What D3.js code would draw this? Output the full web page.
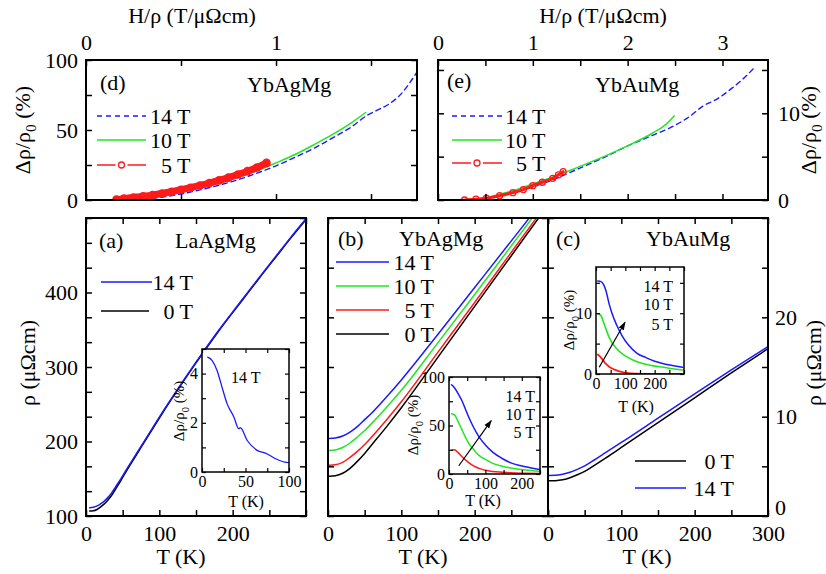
<!DOCTYPE html>
<html>
<head>
<meta charset="utf-8">
<script src="https://cdn.jsdelivr.net/npm/d3@7"></script>
<style>
body { margin: 0; background: #fff; }
text { font-family: "Liberation Serif", "Times New Roman", serif; fill: #000; }
</style>
</head>
<body>
<div id="fig"></div>
<script>
"use strict";
// ---- (a) LaAgMg, rho (uOhm cm) vs T (K)
var aT = [5, 10, 15, 20, 25, 30, 35, 40, 45, 50, 60, 75, 90, 105, 120, 135, 150, 165, 180, 200, 220, 240, 260, 280, 300];
var a14 = [111, 111.8, 113.5, 116.5, 120, 125, 131, 138.5, 146, 154, 170, 193.5, 217, 240.5, 263, 285, 306.5, 327.5, 348, 374, 399.5, 425, 450, 475, 499];
var a0 = [106.7, 107, 108.7, 112.2, 116.3, 121.6, 127.9, 135.6, 143.4, 151.9, 168.2, 192, 215.7, 239.3, 261.9, 284, 305.5, 326.5, 347, 373, 398.5, 424, 449, 474, 498];
// inset (a): MR at 14 T
var iaT = [6.6, 11.5, 17.3, 23, 28.8, 36.6, 42.3, 44, 52, 63.4, 73, 84.7, 95, 100];
var ia14 = [4.67, 4.54, 4.13, 3.45, 2.78, 2.24, 1.76, 1.8, 1.28, 0.88, 0.77, 0.54, 0.4, 0.38];

// ---- (b) YbAgMg
var bT = [2, 10, 20, 30, 40, 50, 60, 80, 100, 150, 200, 250, 300];
var b0 = [4.0, 4.05, 4.3, 4.8, 5.5, 6.3, 7.2, 9.0, 10.9, 16.0, 21.1, 26.2, 31.3];
var b5 = [5.1, 5.15, 5.4, 5.9, 6.5, 7.2, 8.0, 9.7, 11.5, 16.5, 21.5, 26.55, 31.6];
var b10 = [6.6, 6.65, 6.9, 7.35, 7.95, 8.6, 9.35, 10.95, 12.65, 17.45, 22.3, 27.2, 32.1];
var b14 = [7.8, 7.85, 8.05, 8.45, 9.0, 9.7, 10.4, 12.0, 13.7, 18.3, 23.0, 27.7, 32.4];
// inset (b)
var ibT = [7, 15, 25, 35, 45, 55, 65, 75, 85, 100, 120, 146, 170, 210, 249];
var ib14 = [92, 89, 83, 76, 67, 58, 50, 43, 37, 30, 22.5, 16, 11.5, 7.5, 4.6];
var ib10 = [62, 61, 54, 46, 38, 31, 26.5, 22, 18.5, 15, 11, 8, 6.2, 4.2, 2.9];
var ib5 = [24.5, 25, 22, 18, 14.5, 11.5, 9, 7, 5.5, 3.8, 2.6, 1.8, 1.2, 0.8, 0.5];

// ---- (c) YbAuMg
var cT = [2, 10, 20, 30, 40, 50, 60, 80, 100, 150, 200, 250, 300];
var c0 = [3.55, 3.56, 3.65, 3.85, 4.15, 4.5, 4.95, 5.9, 6.9, 9.4, 11.9, 14.4, 16.85];
var c14 = [4.08, 4.09, 4.2, 4.4, 4.7, 5.05, 5.5, 6.45, 7.4, 9.85, 12.3, 14.7, 17.05];
// inset (c)
var icT = [6, 17, 25, 34, 45, 55, 70, 90, 110, 140, 170, 200, 230, 260, 295];
var ic14 = [15.3, 15.2, 14.8, 13.7, 11.5, 9.9, 8.1, 6.2, 4.8, 3.4, 2.7, 2.1, 1.7, 1.4, 1.1];
var ic10 = [9.9, 9.6, 8.6, 7.4, 6.0, 5.1, 4.2, 3.3, 2.7, 2.0, 1.6, 1.3, 1.1, 0.85, 0.65];
var ic5 = [3.2, 2.7, 2.2, 1.65, 1.2, 0.9, 0.6, 0.3, 0.12, 0.05, 0.02, 0, 0, 0, 0];

// ---- (d) YbAgMg, MR vs H/rho
var d14x = [0.30, 0.4, 0.5, 0.6, 0.7, 0.8, 0.9, 1.0, 1.1, 1.2, 1.3, 1.4, 1.48, 1.53, 1.6, 1.66, 1.7, 1.745];
var d14 = [0.3, 2.0, 4.3, 7.2, 10.6, 14.5, 19.2, 24.4, 30.5, 37.0, 44.5, 52.5, 60.5, 64, 69, 76, 83, 92];
var d10x = [0.305, 0.4, 0.5, 0.6, 0.7, 0.8, 0.9, 1.0, 1.1, 1.2, 1.3, 1.4, 1.472];
var d10 = [0.5, 2.8, 5.6, 8.5, 12.0, 16.0, 20.8, 26.5, 32.5, 39.5, 47.0, 55.5, 62.5];
var d5x = [0.16, 0.2, 0.25, 0.3, 0.35, 0.4, 0.45, 0.5, 0.55, 0.6, 0.65, 0.7, 0.75, 0.8, 0.85, 0.9, 0.95];
var d5 = [0.3, 1.0, 1.8, 2.6, 3.5, 4.6, 5.9, 7.3, 8.8, 10.4, 12.1, 14.0, 16.0, 18.2, 20.6, 23.2, 26.5];

// ---- (e) YbAuMg, MR vs H/rho
var e14x = [0.58, 0.8, 1.0, 1.25, 1.49, 1.75, 1.98, 2.25, 2.47, 2.65, 2.79, 2.95, 3.1, 3.2, 3.33];
var e14 = [0.3, 0.9, 1.5, 2.5, 3.65, 4.9, 6.15, 7.4, 8.46, 9.6, 10.8, 11.7, 12.9, 13.8, 15.2];
var e10x = [0.58, 0.8, 1.0, 1.25, 1.49, 1.75, 1.98, 2.26, 2.4, 2.49];
var e10 = [0.46, 1.1, 1.85, 2.8, 3.85, 5.0, 6.15, 7.7, 8.7, 9.7];
var e5x = [0.28, 0.4, 0.51, 0.65, 0.79, 0.9, 1.0, 1.1, 1.21, 1.27, 1.32];
var e5 = [0, 0.1, 0.2, 0.5, 0.85, 1.2, 1.65, 2.05, 2.5, 2.9, 3.27];

var FONT = '"Liberation Serif", "Times New Roman", serif';
var BLUE = '#1a1aff', GREEN = '#22e622', RED = '#ff1a1a', BLACK = '#000';
var width = 826, height = 574;

var svg = d3.select('#fig').append('svg')
    .attr('width', width)
    .attr('height', height);

var defs = svg.append('defs');
defs.append('marker')
    .attr('id', 'arr')
    .attr('viewBox', '0 0 10 10')
    .attr('refX', 9).attr('refY', 5)
    .attr('markerWidth', 7).attr('markerHeight', 7)
    .attr('orient', 'auto')
    .append('path').attr('d', 'M0,1.5L10,5L0,8.5z').attr('fill', '#000');

var clipN = 0;
function panel(box, xd, yd) {
    var g = svg.append('g').attr('transform', 'translate(' + box.x + ',' + box.y + ')');
    if (box.bg) g.append('rect').attr('width', box.w).attr('height', box.h).attr('fill', '#fff');
    var id = 'clip' + (clipN++);
    defs.append('clipPath').attr('id', id)
        .append('rect').attr('width', box.w).attr('height', box.h);
    return {
        g: g,
        w: box.w, h: box.h,
        x: d3.scaleLinear().domain(xd).range([0, box.w]),
        y: d3.scaleLinear().domain(yd).range([box.h, 0]),
        plot: g.append('g').attr('clip-path', 'url(#' + id + ')')
    };
}

function near(v, list) {
    return list.some(function (l) { return Math.abs(l - v) < 1e-6; });
}

// inward ticks on all four sides, labels only on the chosen sides
function axes(p, o) {
    var sides = [
        ['bottom', d3.axisBottom(p.x), 'translate(0,' + p.h + ')', o.xt, o.xside, o.xl],
        ['top', d3.axisTop(p.x), 'translate(0,0)', o.xt, o.xside, o.xl],
        ['left', d3.axisLeft(p.y), 'translate(0,0)', o.yt, o.yside, o.yl],
        ['right', d3.axisRight(p.y), 'translate(' + p.w + ',0)', o.yt, o.yside, o.yl]
    ];
    sides.forEach(function (s) {
        var ax = p.g.append('g')
            .classed('ax-' + s[0], true)
            .attr('transform', s[2])
            .call(s[1].tickValues(s[3]).tickSize(-o.len).tickPadding(o.pad[s[0]] || 6)
                .tickFormat(function (v) { return s[0] === s[4] && near(v, s[5]) ? String(v) : ''; }))
            .attr('font-family', FONT)
            .attr('font-size', o.fs);
        ax.select('.domain').remove();
        ax.selectAll('line').attr('stroke-width', o.lw || 1.5);
    });
    p.g.append('rect')
        .attr('width', p.w).attr('height', p.h)
        .attr('fill', 'none').attr('stroke', '#000').attr('stroke-width', o.frame || 2);
}

function curve(p, xs, ys, color, sw, dash) {
    return p.plot.append('path')
        .datum(d3.zip(xs, ys))
        .attr('fill', 'none')
        .attr('stroke', color)
        .attr('stroke-width', sw)
        .attr('stroke-linecap', 'round')
        .attr('stroke-dasharray', dash || null)
        .attr('d', d3.line()
            .x(function (d) { return p.x(d[0]); })
            .y(function (d) { return p.y(d[1]); })
            .curve(d3.curveMonotoneX));
}

function circles(p, xs, ys, r, sw) {
    p.plot.selectAll(null)
        .data(d3.zip(xs, ys))
        .enter().append('circle')
        .attr('cx', function (d) { return p.x(d[0]); })
        .attr('cy', function (d) { return p.y(d[1]); })
        .attr('r', r)
        .attr('fill', 'none')
        .attr('stroke', RED)
        .attr('stroke-width', sw);
}

function label(x, y, str, fs, anchor) {
    return svg.append('text')
        .attr('x', x).attr('y', y)
        .attr('dy', '0.35em')
        .attr('font-size', fs)
        .attr('text-anchor', anchor || 'start')
        .text(str);
}

// "Δρ/ρ0 (%)" with a lowered 0
function mrTitle(x, y, fs) {
    var t = svg.append('text')
        .attr('transform', 'translate(' + x + ',' + y + ') rotate(-90)')
        .attr('text-anchor', 'middle')
        .attr('dy', '0.35em')
        .attr('font-size', fs);
    t.append('tspan').text('\u0394\u03c1/\u03c1');
    t.append('tspan').attr('dy', fs * 0.3).attr('font-size', fs * 0.7).text('0');
    t.append('tspan').attr('dy', -fs * 0.3).text(' (%)');
}

function rhoTitle(x, y, fs) {
    svg.append('text')
        .attr('transform', 'translate(' + x + ',' + y + ') rotate(-90)')
        .attr('text-anchor', 'middle')
        .attr('dy', '0.35em')
        .attr('font-size', fs)
        .text('\u03c1 (\u03bc\u03a9cm)');
}

function legLine(x1, x2, y, color, dash, sw) {
    svg.append('line')
        .attr('x1', x1).attr('x2', x2).attr('y1', y).attr('y2', y)
        .attr('stroke', color).attr('stroke-width', sw || 1.5)
        .attr('stroke-dasharray', dash || null);
}

function legCircle(x1, x2, y) {
    var m = (x1 + x2) / 2;
    legLine(x1, m - 6, y, RED, null, 1.5);
    legLine(m + 6, x2, y, RED, null, 1.5);
    svg.append('circle').attr('cx', m).attr('cy', y).attr('r', 3)
        .attr('fill', '#fff').attr('stroke', RED).attr('stroke-width', 1.3);
}

var FS = 22, IFS = 16;
var mainPad = { bottom: 9, top: 10, left: 8, right: 8 };
var insetPad = { bottom: 4, top: 4, left: 4, right: 4 };

// ================= (d)
var pd = panel({ x: 86, y: 60, w: 331, h: 140 }, [0, 1.742], [0, 100]);
curve(pd, d14x, d14, BLUE, 1.4, '5,4');
curve(pd, d10x, d10, GREEN, 1.5);
curve(pd, d5x, d5, RED, 7);
circles(pd, d5x, d5, 3.5, 1.6);
axes(pd, { xt: [0, 0.5, 1, 1.5], xl: [0, 1], xside: 'top', yt: [0, 25, 50, 75, 100], yl: [0, 50, 100], yside: 'left', len: 6, fs: FS, pad: mainPad });
label(100, 82, '(d)', FS);
label(247, 84, 'YbAgMg', FS);
legLine(97, 146, 116, BLUE, '5,4', 1.4); label(150, 116, '14 T', FS);
legLine(97, 146, 140, GREEN); label(150, 140, '10 T', FS);
legCircle(97, 146, 165); label(161, 165, '5 T', FS);
label(192, 15, 'H/\u03c1 (T/\u03bc\u03a9cm)', FS, 'middle');
mrTitle(22, 130, FS);

// ================= (e)
var pe = panel({ x: 438, y: 60, w: 330, h: 140 }, [0, 3.48], [0, 16.15]);
curve(pe, e14x, e14, BLUE, 1.4, '5,4');
curve(pe, e10x, e10, GREEN, 1.5);
curve(pe, e5x, e5, RED, 3);
circles(pe, e5x, e5, 3, 1.3);
axes(pe, { xt: [0, 0.5, 1, 1.5, 2, 2.5, 3], xl: [0, 1, 2, 3], xside: 'top', yt: [0, 5, 10, 15], yl: [0, 10], yside: 'right', len: 6, fs: FS, pad: { bottom: 9, top: 10, left: 8, right: 10 } });
label(447, 80, '(e)', FS);
label(595, 84, 'YbAuMg', FS);
legLine(452, 502, 116, BLUE, '5,4', 1.4); label(505, 116, '14 T', FS);
legLine(452, 502, 140, GREEN); label(505, 140, '10 T', FS);
legCircle(452, 502, 163); label(516, 163, '5 T', FS);
label(603, 15, 'H/\u03c1 (T/\u03bc\u03a9cm)', FS, 'middle');
mrTitle(808, 130, FS);

// ================= (a)
var pa = panel({ x: 86, y: 218, w: 220, h: 298 }, [0, 300], [100, 500]);
curve(pa, aT, a0, BLACK, 1.5);
curve(pa, aT, a14, BLUE, 1.5);
axes(pa, { xt: d3.range(0, 301, 50), xl: [0, 100, 200], xside: 'bottom', yt: d3.range(0, 13).map(function (i) { return 100 + i * 100 / 3; }), yl: [100, 200, 300, 400], yside: 'left', len: 6, fs: FS, pad: mainPad });
label(99, 240, '(a)', FS);
label(175, 240, 'LaAgMg', FS);
legLine(101, 152, 282, BLUE); label(193, 282, '14 T', FS, 'end');
legLine(101, 149, 311, BLACK); label(193, 311, '0 T', FS, 'end');
label(181, 556, 'T (K)', FS, 'middle');
rhoTitle(27, 363, FS);

// inset (a)
var ia = panel({ x: 202, y: 349, w: 87, h: 123, bg: true }, [0, 100], [0, 5]);
curve(ia, iaT, ia14, BLUE, 1.3);
axes(ia, { xt: [0, 25, 50, 75, 100], xl: [0, 50, 100], xside: 'bottom', yt: [0, 1, 2, 3, 4, 5], yl: [0, 2, 4], yside: 'left', len: 4, fs: IFS, pad: insetPad, lw: 1.2, frame: 1.5 });
label(231, 377, '14 T', IFS);
label(246, 501, 'T (K)', IFS, 'middle');
mrTitle(179, 411, 15);

// ================= (b)
var pb = panel({ x: 328, y: 218, w: 220, h: 298 }, [0, 300], [0, 30]);
curve(pb, bT, b0, BLACK, 1.5);
curve(pb, bT, b5, RED, 1.5);
curve(pb, bT, b10, GREEN, 1.5);
curve(pb, bT, b14, BLUE, 1.5);
axes(pb, { xt: d3.range(0, 301, 50), xl: [0, 100, 200], xside: 'bottom', yt: d3.range(0, 31, 5), yl: [], yside: 'left', len: 6, fs: FS, pad: mainPad });
label(338, 238, '(b)', FS);
label(399, 238, 'YbAgMg', FS);
legLine(336, 389, 262, BLUE); label(434, 262, '14 T', FS, 'end');
legLine(336, 389, 286, GREEN); label(434, 286, '10 T', FS, 'end');
legLine(336, 389, 310, RED); label(434, 310, '5 T', FS, 'end');
legLine(336, 389, 334, BLACK); label(434, 334, '0 T', FS, 'end');
label(423, 556, 'T (K)', FS, 'middle');

// inset (b)
var ib = panel({ x: 449, y: 377, w: 91, h: 97, bg: true }, [0, 250], [0, 100]);
curve(ib, ibT, ib5, RED, 1.5);
curve(ib, ibT, ib10, GREEN, 1.5);
curve(ib, ibT, ib14, BLUE, 1.5);
axes(ib, { xt: [0, 50, 100, 150, 200, 250], xl: [0, 100, 200], xside: 'bottom', yt: [0, 25, 50, 75, 100], yl: [0, 50, 100], yside: 'left', len: 4, fs: IFS, pad: insetPad, lw: 1.2, frame: 1.5 });
ib.g.append('line')
    .attr('x1', ib.x(27)).attr('y1', ib.y(8.5))
    .attr('x2', ib.x(116)).attr('y2', ib.y(55))
    .attr('stroke', '#000').attr('stroke-width', 1.2)
    .attr('marker-end', 'url(#arr)');
label(535, 396, '14 T', IFS, 'end');
label(535, 414, '10 T', IFS, 'end');
label(535, 432, '5 T', IFS, 'end');
label(483, 500, 'T (K)', IFS, 'middle');
mrTitle(413, 425, 15);

// ================= (c)
var pc = panel({ x: 548, y: 218, w: 220, h: 298 }, [0, 300], [0, 30]);
curve(pc, cT, c0, BLACK, 1.5);
curve(pc, cT, c14, BLUE, 1.5);
axes(pc, { xt: d3.range(0, 301, 50), xl: [0, 100, 200, 300], xside: 'bottom', yt: d3.range(0, 31, 5), yl: [0, 10, 20], yside: 'right', len: 6, fs: FS, pad: { bottom: 9, top: 10, left: 8, right: 7 } });
// lift the right-hand "0" clear of the "300" below it
pc.g.selectAll('.ax-right text').filter(function (v) { return v === 0; }).attr('dy', '-0.05em');
label(556, 238, '(c)', FS);
label(646, 238, 'YbAuMg', FS);
legLine(635, 686, 461, BLACK); label(734, 461, '0 T', FS, 'end');
legLine(635, 686, 488, BLUE); label(734, 488, '14 T', FS, 'end');
label(647, 556, 'T (K)', FS, 'middle');
rhoTitle(813, 363, FS);

// inset (c)
var ic = panel({ x: 596, y: 267, w: 88, h: 107, bg: true }, [0, 300], [0, 17.6]);
curve(ic, icT, ic5, RED, 1.8);
curve(ic, icT, ic10, GREEN, 1.6);
curve(ic, icT, ic14, BLUE, 1.5);
axes(ic, { xt: d3.range(0, 301, 50), xl: [0, 100, 200], xside: 'bottom', yt: [0, 5, 10, 15], yl: [0, 10], yside: 'left', len: 4, fs: IFS, pad: insetPad, lw: 1.2, frame: 1.5 });
ic.g.append('line')
    .attr('x1', ic.x(11)).attr('y1', ic.y(1.1))
    .attr('x2', ic.x(99)).attr('y2', ic.y(8.5))
    .attr('stroke', '#000').attr('stroke-width', 1.2)
    .attr('marker-end', 'url(#arr)');
label(673, 286, '14 T', IFS, 'end');
label(673, 304, '10 T', IFS, 'end');
label(673, 324, '5 T', IFS, 'end');
label(636, 406, 'T (K)', IFS, 'middle');
mrTitle(569, 320, 15);
</script>
</body>
</html>
